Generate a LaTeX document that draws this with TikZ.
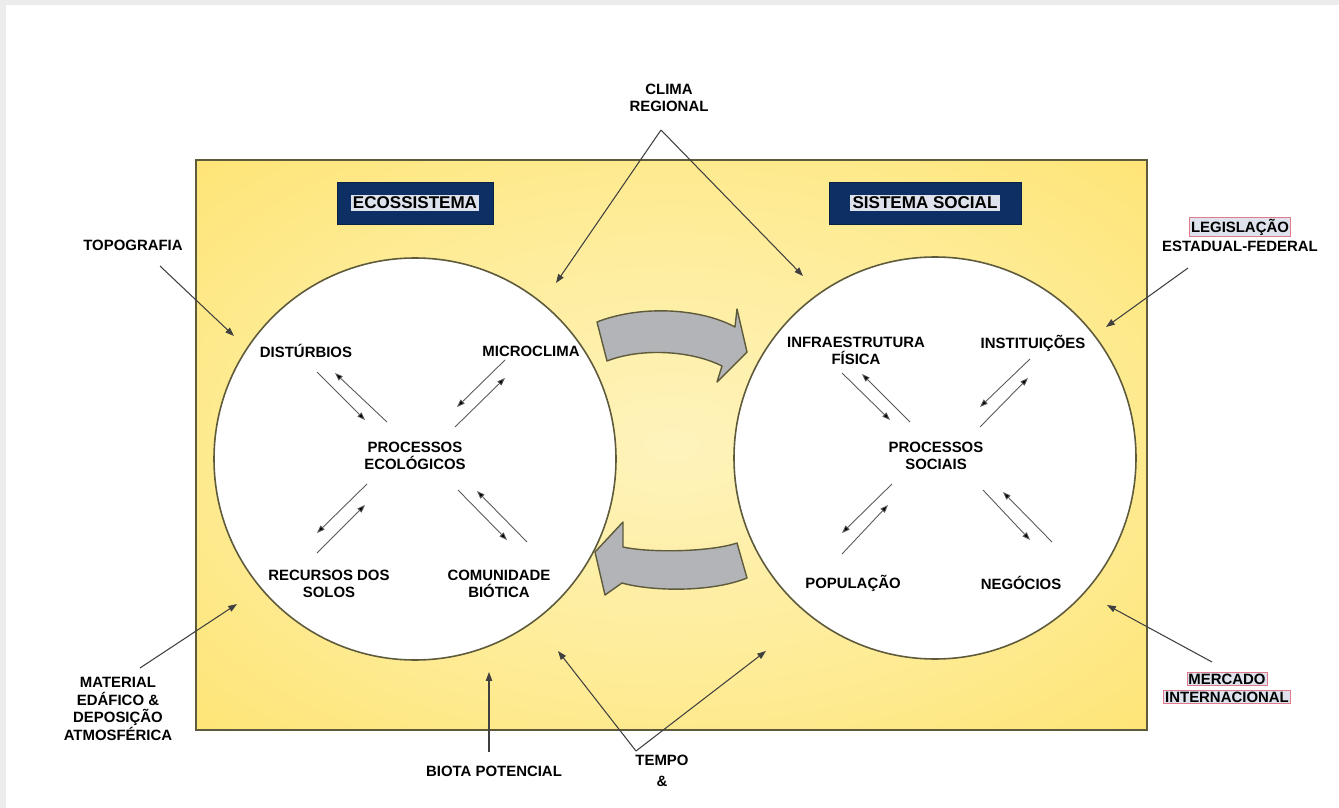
\documentclass[tikz,border=0pt]{standalone}
\usepackage{fontspec}
\setmainfont{Liberation Sans}
\usetikzlibrary{arrows.meta}
\definecolor{navy}{HTML}{0E2F64}
\definecolor{framegray}{HTML}{ECECEC}
\definecolor{paleyel}{HTML}{FEF3BC}
\definecolor{midyel}{HTML}{FEEC98}
\definecolor{edgeyel}{HTML}{FFDF5C}
\definecolor{deepyel}{HTML}{FFD944}
\definecolor{olive}{HTML}{5E5A3C}
\definecolor{arrowgray}{HTML}{B3B4B7}
\definecolor{hlfill}{HTML}{DDE2EC}
\definecolor{hlpink}{HTML}{E07A8C}
\pgfdeclareradialshading{panelshade}{\pgfpoint{0bp}{0bp}}{%
  color(0bp)=(paleyel); color(20bp)=(midyel); color(48bp)=(edgeyel); color(72bp)=(deepyel)}
\begin{document}
\begin{tikzpicture}[x=0.2mm,y=-0.2mm,
  lbl/.style={font=\fontsize{8.5}{10}\selectfont\bfseries, align=center, inner sep=1pt, text=black},
  inlbl/.style={font=\fontsize{8.5}{9.6}\selectfont\bfseries, align=center, inner sep=1pt, text=black},
  hl/.style={lbl, fill=hlfill, draw=hlpink, line width=0.4pt, inner sep=0.8pt},
  titlebox/.style={fill=navy, draw=navy!70!black, minimum height=8.4mm},
  titletext/.style={font=\fontsize{9.7}{11}\selectfont\bfseries, fill=hlfill, inner sep=1.2pt, text=black},
  bigcircle/.style={circle, draw=olive, line width=0.9pt, fill=white, minimum size=80.4mm, inner sep=0pt},
  extarrow/.style={draw=black!75, line width=0.6pt, -{Triangle[length=5pt,width=3.6pt]}},
  inarrow/.style={draw=black!65, line width=0.5pt, -{Triangle[length=4.5pt,width=3.2pt,fill=black]}},
  grayarrow/.style={fill=arrowgray, draw=olive, line width=0.8pt, line join=round}
]
\useasboundingbox (0,0) rectangle (1339,808);
\fill[white] (0,0) rectangle (1339,808);
\fill[framegray] (0,0) rectangle (1339,5);
\fill[framegray] (0,0) rectangle (6,808);

% main yellow panel
\shade[shading=panelshade] (196,160) rectangle (1147,730);
\draw[olive, line width=0.9pt] (196,160) rectangle (1147,730);

% circles
\node[bigcircle] (eco) at (415,459) {};
\node[bigcircle] (soc) at (935,458) {};

% title boxes
\node[titlebox, minimum width=31.2mm] (ecobox) at (415,203) {};
\node[titletext] (ecot) at (ecobox.center) {ECOSSISTEMA};
\node[titlebox, minimum width=38.4mm] (socbox) at (925,203) {};
\node[titletext] (soct) at (socbox.center) {SISTEMA SOCIAL};

% curved gray arrows
\path[grayarrow] (597,322) .. controls (640,305) and (700,308) .. (735,327)
  -- (737,309) -- (747,352) -- (717,382) -- (722,366)
  .. controls (690,350) and (640,348) .. (607,361) -- cycle;
\path[grayarrow] (737,543) .. controls (710,552) and (650,553) .. (623,547)
  -- (623,522) -- (595,552) -- (605,595) -- (622,583)
  .. controls (650,591) and (710,593) .. (747,578) -- cycle;

% inner labels: ecosystem
\node[inlbl] (dist) at (306,351) {DISTÚRBIOS};
\node[inlbl] (micro) at (531,351) {MICROCLIMA};
\node[inlbl] (proceco) at (415,456) {PROCESSOS\\ECOLÓGICOS};
\node[inlbl] (recur) at (329,584) {RECURSOS DOS\\SOLOS};
\node[inlbl] (comun) at (499,584) {COMUNIDADE\\BIÓTICA};

% inner labels: social
\node[inlbl] (infra) at (856,351) {INFRAESTRUTURA\\FÍSICA};
\node[inlbl] (inst) at (1033,343) {INSTITUIÇÕES};
\node[inlbl] (procsoc) at (936,456) {PROCESSOS\\SOCIAIS};
\node[inlbl] (popul) at (853,583) {POPULAÇÃO};
\node[inlbl] (negoc) at (1021,583) {NEGÓCIOS};

% inner arrow pairs: ecosystem
\draw[inarrow] (317,372) -- (365,420);
\draw[inarrow] (387,422) -- (335,373);
\draw[inarrow] (505,360) -- (457,407);
\draw[inarrow] (455,427) -- (505,378);
\draw[inarrow] (367,484) -- (317,533);
\draw[inarrow] (317,553) -- (365,505);
\draw[inarrow] (458,490) -- (507,540);
\draw[inarrow] (527,542) -- (477,491);

% inner arrow pairs: social
\draw[inarrow] (842,373) -- (890,420);
\draw[inarrow] (910,422) -- (862,374);
\draw[inarrow] (1030,359) -- (980,407);
\draw[inarrow] (980,427) -- (1028,378);
\draw[inarrow] (892,484) -- (842,533);
\draw[inarrow] (842,554) -- (888,505);
\draw[inarrow] (983,490) -- (1030,540);
\draw[inarrow] (1052,542) -- (1003,492);

% external labels
\node[lbl] (clima) at (669,98) {CLIMA\\REGIONAL};
\node[lbl] (topo) at (133,245) {TOPOGRAFIA};
\node[hl] (legis) at (1240,227) {LEGISLAÇÃO};
\node[lbl] (estfed) at (1240,246) {ESTADUAL-FEDERAL};
\node[lbl, font=\fontsize{8.5}{9.9}\selectfont\bfseries] (mater) at (118,709) {MATERIAL\\EDÁFICO \&\\DEPOSIÇÃO\\ATMOSFÉRICA};
\node[lbl] (biota) at (494,771) {BIOTA POTENCIAL};
\node[lbl, font=\fontsize{8.5}{11.8}\selectfont\bfseries] (tempo) at (662,771) {TEMPO\\\&};
\node[hl] (merc) at (1227,679) {MERCADO};
\node[hl] (intl) at (1227,697) {INTERNACIONAL};

% external connectors
\coordinate (climaapex) at (661,130);
\coordinate (climaL) at (556,283);
\coordinate (climaR) at (803,276);
\draw[extarrow] (climaapex) -- (climaL);
\draw[extarrow] (climaapex) -- (climaR);

\coordinate (topoS) at (160,266);
\coordinate (topoE) at (234,336);
\draw[extarrow] (topoS) -- (topoE);

\coordinate (legisS) at (1188,268);
\coordinate (legisE) at (1106,327);
\draw[extarrow] (legisS) -- (legisE);

\coordinate (materS) at (140,668);
\coordinate (materE) at (237,604);
\draw[extarrow] (materS) -- (materE);

\coordinate (biotaS) at (489,752);
\coordinate (biotaE) at (489,672);
\draw[extarrow] (biotaS) -- (biotaE);

\coordinate (tempoapex) at (636,751);
\coordinate (tempoL) at (558,651);
\coordinate (tempoR) at (766,651);
\draw[extarrow] (tempoapex) -- (tempoL);
\draw[extarrow] (tempoapex) -- (tempoR);

\coordinate (mercS) at (1212,662);
\coordinate (mercE) at (1107,605);
\draw[extarrow] (mercS) -- (mercE);
\end{tikzpicture}
\end{document}
